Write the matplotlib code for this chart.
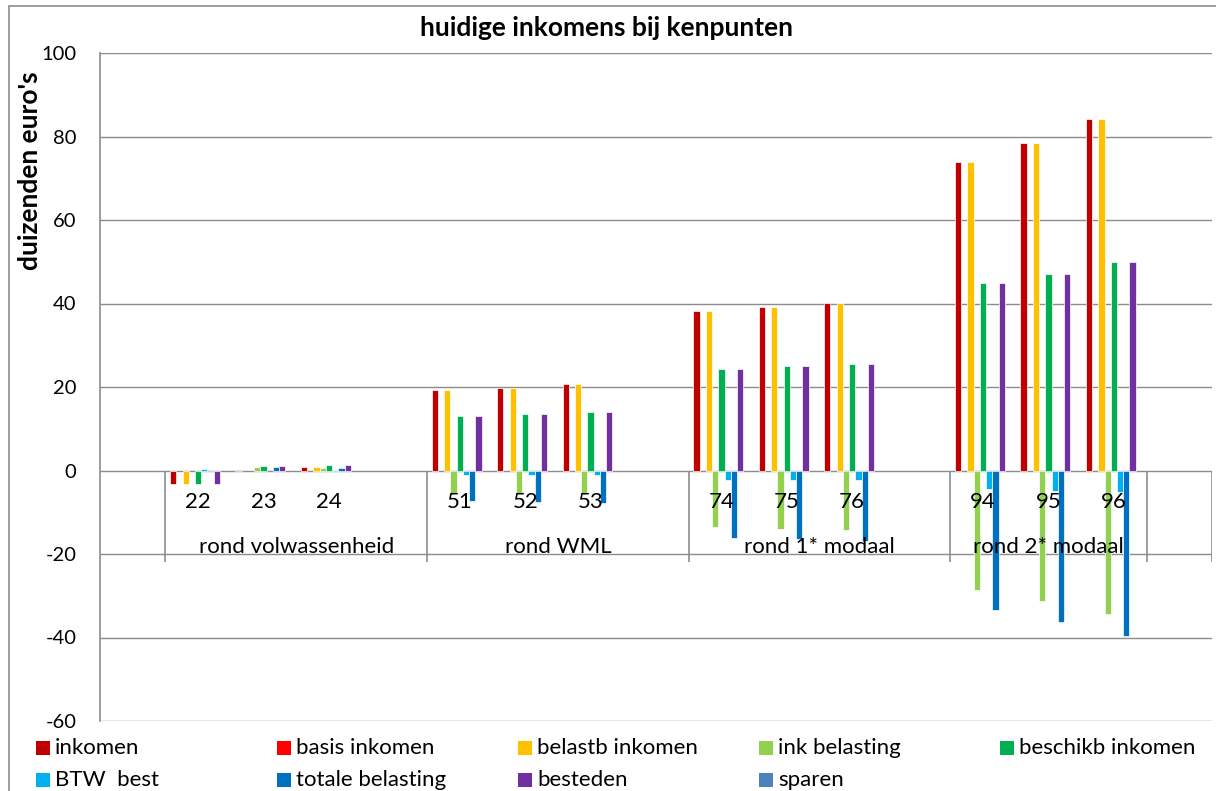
import matplotlib
matplotlib.use("Agg")
import matplotlib.pyplot as plt
from matplotlib.patches import Rectangle
import numpy as np

plt.rcParams["font.family"] = ["Lato", "DejaVu Sans"]
plt.rcParams["axes.unicode_minus"] = False

# ── Data (thousands of euros) ──────────────────────────────────────────────────
CATEGORIES = ["", "22", "23", "24", "", "51", "52", "53", "", "74", "75", "76",
              "", "94", "95", "96", ""]
GROUPS = ["rond volwassenheid", "rond WML", "rond 1* modaal", "rond 2* modaal"]
GROUP_SPANS = [(0.5, 4.5), (4.5, 8.5), (8.5, 12.5), (12.5, 15.5)]

SERIES = ["inkomen", "basis inkomen", "belastb inkomen", "ink belasting",
          "beschikb inkomen", "BTW  best", "totale belasting", "besteden", "sparen"]
COLORS = ["#C00000", "#FF0000", "#FFC000", "#92D050", "#00B050",
          "#00B0F0", "#0070C0", "#7030A0", "#4F81BD"]

inkomen        = [0, -3.2, 0.1, 0.9, 0, 19.2, 19.8, 20.6, 0, 38.2, 39.2, 40.2, 0, 73.8, 78.4, 84.3, 0]
basis_inkomen  = [0, 0, 0, 0, 0, 0, 0, 0, 0, 0, 0, 0, 0, 0, 0, 0, 0]
belastb_inkomen = [0, -3.2, 0, 0.9, 0, 19.2, 19.8, 20.6, 0, 38.2, 39.2, 40.2, 0, 73.8, 78.4, 84.3, 0]
ink_belasting  = [0, 0, 0.9, 0.6, 0, -5.4, -5.5, -5.6, 0, -13.5, -13.9, -14.3, 0, -28.7, -31.2, -34.3, 0]
beschikb_inkomen = [0, -3.2, 1.1, 1.4, 0, 13.0, 13.5, 13.9, 0, 24.3, 25.0, 25.6, 0, 44.9, 47.1, 49.9, 0]
btw_best       = [0, 0.3, 0, 0.2, 0, -1.0, -1.0, -1.1, 0, -2.2, -2.3, -2.3, 0, -4.5, -4.8, -5.1, 0]
totale_belasting = [0, 0.2, 0.8, 0.6, 0, -7.2, -7.5, -7.8, 0, -16.1, -16.3, -16.9, 0, -33.5, -36.2, -39.6, 0]
besteden       = [0, -3.2, 1.1, 1.4, 0, 13.0, 13.5, 13.9, 0, 24.3, 25.0, 25.6, 0, 44.9, 47.1, 49.9, 0]
sparen         = [0, 0, 0, 0, 0, 0, 0, 0, 0, 0, 0, 0, 0, 0, 0, 0, 0]

VALUES = [inkomen, basis_inkomen, belastb_inkomen, ink_belasting, beschikb_inkomen,
          btw_best, totale_belasting, besteden, sparen]

GRID_CLR = "#8C8C8C"
W, H = 1216, 791
FS = 16

# ── Figure ─────────────────────────────────────────────────────────────────────
fig = plt.figure(figsize=(W / 100, H / 100), dpi=100)
ax = fig.add_axes([100 / W, 1 - 721 / H, 1112 / W, (721 - 53) / H])

# outer chart border
fig.patches.append(Rectangle((9 / W, -0.01), 1.2, 1 - 6 / H + 0.01, transform=fig.transFigure,
                             fill=False, edgecolor=GRID_CLR, linewidth=1.2))

x = np.arange(len(CATEGORIES))
n = len(SERIES)
bw = 1 / (n + 1.5)
for j, (vals, col) in enumerate(zip(VALUES, COLORS)):
    v = np.array(vals, dtype=float)
    keep = v != 0
    if keep.any():
        ax.bar(x[keep] + (j - (n - 1) / 2) * bw, v[keep], width=bw, color=col,
               edgecolor="white", linewidth=0.5, zorder=3)

ax.set_xlim(-0.5, len(CATEGORIES) - 0.5)
ax.set_ylim(-60, 100)
ax.set_yticks(np.arange(-60, 101, 20))
ax.yaxis.grid(True, color=GRID_CLR, linewidth=1.0, zorder=0)
ax.set_axisbelow(True)
ax.tick_params(axis="y", length=0, pad=17, labelsize=14.5)
ax.set_xticks([])
for side in ["top", "right", "bottom"]:
    ax.spines[side].set_visible(False)
ax.spines["left"].set_color(GRID_CLR)
ax.spines["left"].set_linewidth(1.2)

# multi-level category axis drawn inside the plot at y=0
bounds = sorted({b for span in GROUP_SPANS for b in span} | {len(CATEGORIES) - 0.5})
ax.vlines(bounds, -22, 0, color=GRID_CLR, linewidth=1.2, zorder=2)
for xi, lab in zip(x, CATEGORIES):
    if lab:
        ax.text(xi, -7.5, lab, ha="center", va="center", fontsize=FS, zorder=5)
for (a, b), g in zip(GROUP_SPANS, GROUPS):
    ax.text((a + b) / 2, -18.4, g, ha="center", va="center", fontsize=FS, zorder=5)

fig.text(607 / W, 1 - 28 / H, "huidige inkomens bij kenpunten", ha="center", va="center",
         fontsize=19, fontweight="bold")
fig.text(30 / W, 1 - 171 / H, "duizenden euro's", ha="center", va="center",
         rotation=90, fontsize=19, fontweight="bold")

# legend, laid out like the original grid
for k, (name, col) in enumerate(zip(SERIES, COLORS)):
    row, colno = divmod(k, 5)
    lx = 36 + 241 * colno
    cy = 748 + 32 * row
    fig.patches.append(Rectangle((lx / W, 1 - (cy + 7) / H), 14 / W, 14 / H,
                                 transform=fig.transFigure, facecolor=col, edgecolor="none"))
    fig.text((lx + 19) / W, 1 - cy / H, name, ha="left", va="center", fontsize=FS)

fig.savefig("out.png", dpi=100)
